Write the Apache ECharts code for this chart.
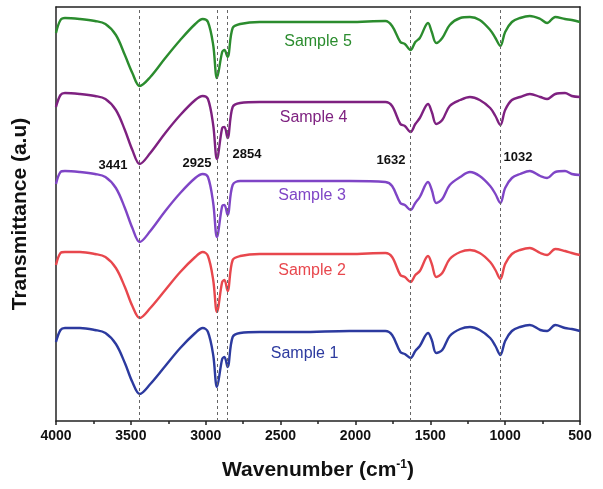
<!DOCTYPE html>
<html>
<head>
<meta charset="utf-8">
<script src="https://cdn.jsdelivr.net/npm/echarts@6/dist/echarts.min.js"></script>
<style>
html,body{margin:0;padding:0;background:#fff;}
#chart{width:603px;height:489px;}
</style>
</head>
<body>
<div id="chart"></div>
<script>
// Wavenumbers (cm^-1) at which the spectra were read
const wavenumbers = [4000,3970,3940,3840,3740,3670,3600,3540,3490,3441,3370,3270,3170,3070,3020,2985,2950,2925,2890,2875,2854,2820,2770,2640,2370,2040,1800,1755,1700,1670,1632,1600,1570,1515,1490,1460,1420,1370,1300,1235,1170,1100,1065,1032,1000,955,900,835,765,720,665,600,555,500];
// Offset transmittance values (a.u.)
const sample1 = [79,91,93,93,91,88,77,58,39,27,37,55,73,88,93,89,66,34,62,64,54,84,88,89,89,90,90,86,69,67,63,70,75,88,81,68,71,85,92,94,91,83,75,66,80,90,94,96,91,90,96,93,92,90];
const sample2 = [156,168,169,169,167,164,153,134,115,103,113,131,149,164,169,165,141,109,139,141,130,161,165,167,167,167,168,164,146,144,139,146,150,165,157,144,148,162,169,171,168,159,151,142,157,167,171,173,168,166,172,170,168,166];
const sample3 = [237,249,250,249,247,244,233,213,193,179,190,210,228,243,247,244,218,184,215,216,206,236,240,240,240,240,239,235,218,216,211,218,224,239,231,218,222,236,244,249,245,235,227,218,233,243,247,250,245,243,249,250,247,246];
const sample4 = [314,326,328,327,325,322,311,291,271,257,268,288,306,321,325,322,296,262,293,294,283,314,318,319,319,319,319,315,297,295,289,297,303,317,309,297,301,315,321,324,321,313,305,296,311,321,324,327,324,322,327,328,325,324];
const sample5 = [388,401,403,402,400,397,386,366,348,335,344,363,381,397,402,399,376,343,369,371,364,393,397,399,399,399,400,395,379,377,371,379,383,398,389,378,383,396,403,404,401,391,383,375,389,399,403,405,402,398,404,402,401,399];

const seriesNames = ['Sample 1','Sample 2','Sample 3','Sample 4','Sample 5'];
const seriesData = [sample1, sample2, sample3, sample4, sample5];
const colors = ['#2c3a9f','#e8474d','#7f45c6','#7e2180','#2b8c2e'];
// label anchor positions [wavenumber, value]
const sampleLabelPos = [[2340,67],[2290,150],[2290,225],[2280,303],[2250,379]];

const peakLines = [3441,2925,2854,1632,1032];
const peakLabels = ['3441','2925','2854','1632','1032'];
const peakLabelPos = [[3619,256],[3058,258],[2724,267],[1762,261],[914,264]];

const xTicks = {min:500, max:4000, interval:500};

const chart = echarts.init(document.getElementById('chart'), null, {renderer:'canvas'});

const FONT = 'Liberation Sans, Arial, sans-serif';

const series = seriesData.map((vals, i) => ({
  type:'line',
  name: seriesNames[i],
  data: wavenumbers.map((w, j) => [w, vals[j]]),
  showSymbol:false,
  smooth:0.35,
  lineStyle:{color:colors[i], width:2.4},
  itemStyle:{color:colors[i]},
  z:3,
  markPoint:{
    symbol:'circle', symbolSize:0,
    label:{show:true, position:'inside', formatter:seriesNames[i], color:colors[i], fontSize:16, fontFamily:FONT},
    data:[{coord:sampleLabelPos[i]}]
  }
}));

series.push({
  type:'line',
  name:'peaks',
  data:[],
  silent:true,
  markLine:{
    silent:true,
    symbol:['none','none'],
    label:{show:false},
    lineStyle:{color:'#666', type:[3,3], width:1},
    data: peakLines.map(v => ({xAxis:v}))
  },
  markPoint:{
    symbol:'circle', symbolSize:0,
    label:{show:true, position:'inside', color:'#111', fontWeight:'bold', fontSize:13, fontFamily:FONT},
    data: peakLabelPos.map((p, k) => ({coord:p, value:peakLabels[k], label:{formatter:peakLabels[k]}}))
  }
});

chart.setOption({
  animation:false,
  backgroundColor:'#fff',
  grid:{left:56, right:23, top:7, bottom:68},
  xAxis:[{
    type:'value', min:xTicks.min, max:xTicks.max, interval:xTicks.interval, inverse:true,
    name:'{a|Wavenumber (cm}{s|-1}{a|)}',
    nameLocation:'middle', nameGap:38,
    nameTextStyle:{rich:{
      a:{fontSize:21, fontWeight:'bold', color:'#111', fontFamily:FONT},
      s:{fontSize:12, fontWeight:'bold', color:'#111', fontFamily:FONT, verticalAlign:'top', padding:[0,0,10,0]}
    }},
    axisLine:{show:true, onZero:false, lineStyle:{color:'#222', width:1.5}},
    axisTick:{show:true, inside:false, length:4, lineStyle:{color:'#222', width:1.5}},
    minorTick:{show:true, splitNumber:2, length:3, lineStyle:{color:'#222', width:1.5}},
    axisLabel:{color:'#111', fontWeight:'bold', fontSize:14, margin:8, fontFamily:FONT, formatter: v => String(v)},
    splitLine:{show:false}
  },{
    type:'value', min:xTicks.min, max:xTicks.max, inverse:true, position:'top',
    axisLine:{show:true, onZero:false, lineStyle:{color:'#222', width:1.5}},
    axisTick:{show:false}, axisLabel:{show:false}, splitLine:{show:false}
  }],
  yAxis:[{
    type:'value', min:0, max:414,
    name:'Transmittance (a.u)', nameLocation:'middle', nameGap:25, nameRotate:90,
    nameTextStyle:{fontSize:21, fontWeight:'bold', color:'#111', fontFamily:FONT},
    axisLine:{show:true, onZero:false, lineStyle:{color:'#222', width:1.5}},
    axisTick:{show:false}, axisLabel:{show:false}, splitLine:{show:false}
  },{
    type:'value', min:0, max:414, position:'right',
    axisLine:{show:true, onZero:false, lineStyle:{color:'#222', width:1.5}},
    axisTick:{show:false}, axisLabel:{show:false}, splitLine:{show:false}
  }],
  series: series
});
</script>
</body>
</html>
